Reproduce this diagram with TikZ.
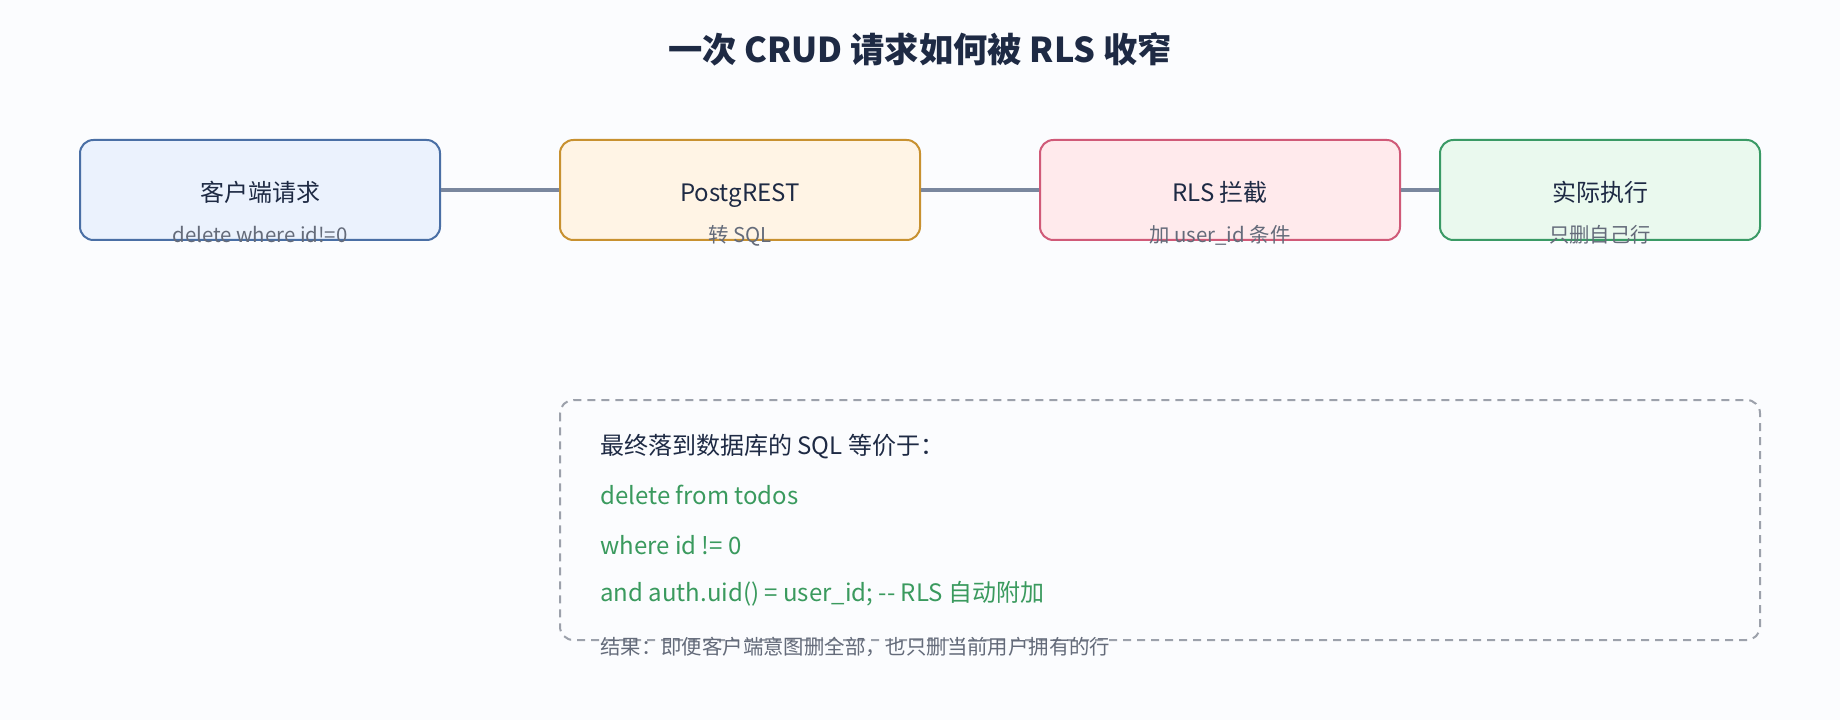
\documentclass[tikz,border=0pt]{standalone}
\usepackage{fontspec}
\setmainfont{Noto Sans CJK SC}
\usepackage{tikz}
\usetikzlibrary{calc}
\definecolor{bg}{HTML}{FBFCFE}
\definecolor{ink}{HTML}{1E2A44}
\definecolor{subink}{HTML}{646B7A}
\definecolor{wire}{HTML}{7A879E}
\definecolor{code}{HTML}{3A9A5E}
\definecolor{dash_gray}{HTML}{9CA1AB}
\definecolor{blue_fill}{RGB}{235, 242, 253}
\definecolor{blue_line}{RGB}{74, 111, 165}
\definecolor{orange_fill}{RGB}{255, 244, 229}
\definecolor{orange_line}{RGB}{200, 145, 48}
\definecolor{red_fill}{RGB}{255, 234, 236}
\definecolor{red_line}{RGB}{208, 90, 120}
\definecolor{green_fill}{RGB}{234, 249, 238}
\definecolor{green_line}{RGB}{58, 154, 101}
\tikzstyle{box}=[rectangle,rounded corners=10pt,line width=1.5pt,
  minimum width=270pt,minimum height=75pt,inner sep=0pt]
\tikzstyle{bb}=[box,fill=blue_fill,draw=blue_line]
\tikzstyle{ob}=[box,fill=orange_fill,draw=orange_line]
\tikzstyle{rb}=[box,fill=red_fill,draw=red_line]
\tikzstyle{gb}=[box,fill=green_fill,draw=green_line,minimum width=240pt]
\tikzstyle{lbl}=[text=ink,font=\fontsize{18pt}{20pt}\selectfont,
  text height=0.8em,text depth=0.2em]
\tikzstyle{sub}=[text=subink,font=\fontsize{15.3pt}{17pt}\selectfont,
  text height=0.8em,text depth=0.2em]
\tikzstyle{ln}=[anchor=west,inner sep=0pt,text=code,
  font=\fontsize{18pt}{20pt}\selectfont,text height=0.8em,text depth=0.2em]
\tikzstyle{none}=[]

\begin{document}
\begin{tikzpicture}[x=0.75pt,y=-0.75pt]
            \fill [bg] (0, 0) rectangle (1840, 720);
            \useasboundingbox (0, 0) rectangle (1840, 720);
            \node [text=ink,font=\bfseries\fontsize{25.7pt}{28pt}\selectfont] (t) at (920, 49) {一次 CRUD 请求如何被 RLS 收窄};
            \node [style=bb] (0) at (260, 190) {};
            \node [style=ob] (1) at (740, 190) {};
            \node [style=rb] (2) at (1220, 190) {};
            \node [style=gb] (3) at (1600, 190) {};
            \draw [wire,line width=3.5pt] (0) to (1);
            \draw [wire,line width=3.5pt] (1) to (2);
            \draw [wire,line width=3.5pt] (2) to (3);
            \node [style=lbl] (0a) at (260, 198) {客户端请求};
            \node [style=sub] (0b) at (260, 239) {delete where id!=0};
            \node [style=lbl] (1a) at (740, 198) {PostgREST};
            \node [style=sub] (1b) at (740, 239) {转 SQL};
            \node [style=lbl] (2a) at (1220, 198) {RLS 拦截};
            \node [style=sub] (2b) at (1220, 239) {加 user\_id 条件};
            \node [style=lbl] (3a) at (1600, 198) {实际执行};
            \node [style=sub] (3b) at (1600, 239) {只删自己行};
            \draw [dash_gray,line width=1.5pt,rounded corners=10pt,dash pattern=on 6pt off 4.5pt] (560, 400) rectangle (1760, 640);
            \node [style=ln,text=ink] (4) at (600, 450) {最终落到数据库的 SQL 等价于：};
            \node [style=ln] (5) at (600, 500) {delete from todos};
            \node [style=ln] (6) at (600, 550) {where id != 0};
            \node [style=ln] (7) at (600, 597) {and auth.uid() = user\_id; -{}- RLS 自动附加};
            \node [style=sub,anchor=west,inner sep=0pt] (8) at (600, 650) {结果：即便客户端意图删全部，也只删当前用户拥有的行};
    \end{tikzpicture}
\end{document}
